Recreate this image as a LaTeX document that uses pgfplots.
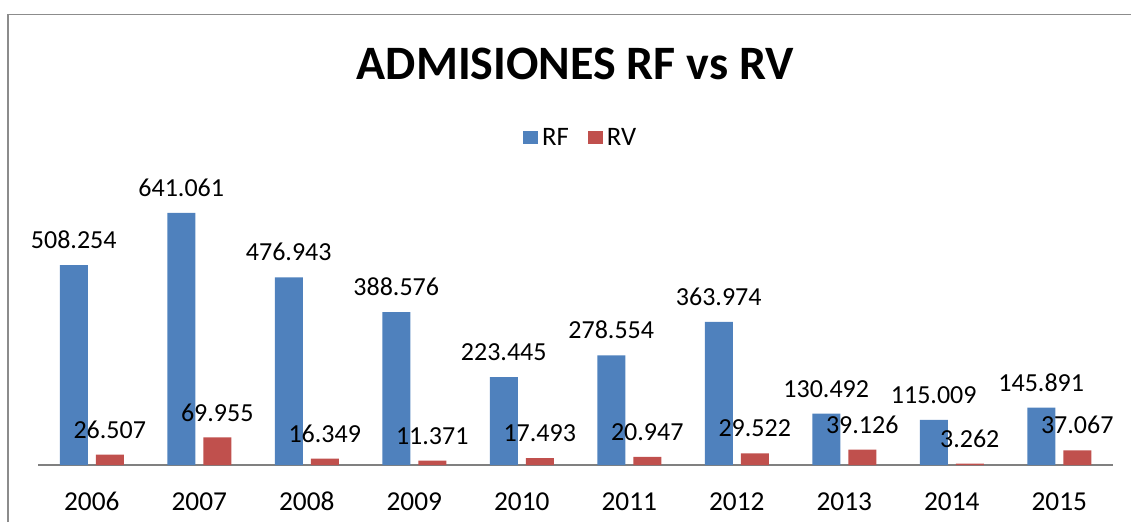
\documentclass[border=0pt]{standalone}
\usepackage{fontspec}
\setmainfont{Carlito}
\usepackage{pgfplots}
\pgfplotsset{compat=1.18}
\definecolor{rfblue}{HTML}{4F81BD}
\definecolor{rvred}{HTML}{C0504D}
\begin{document}
\begin{tikzpicture}
\path[use as bounding box] (0,0) rectangle (848.25pt,391.5pt);
\draw[line width=1.2pt, color=black!45] (6.2pt,0) -- (6.2pt,380.5pt) -- (848.25pt,380.5pt);
\node[anchor=base, font=\fontsize{36}{40}\selectfont\bfseries] at (431.6pt,331.5pt) {ADMISIONES RF vs RV};
\begin{axis}[
  at={(28.5pt,42.75pt)}, anchor=south west,
  scale only axis, width=806.25pt, height=225pt,
  ybar=6pt, bar width=21pt,
  xmin=-0.5, xmax=9.5, ymin=0, ymax=762800,
  enlargelimits=false, clip=false,
  axis x line=bottom, axis y line=none,
  x axis line style={-, draw=black!50, line width=1pt},
  xtick=data,
  xticklabels={2006,2007,2008,2009,2010,2011,2012,2013,2014,2015},
  xtick style={draw=none},
  xticklabel style={font=\fontsize{20.5}{24}\selectfont, inner sep=0pt, anchor=base, yshift=-32.25pt},
  /pgf/number format/.cd, fixed, precision=0, 1000 sep={.}, assume math mode=true,
  /pgfplots/.cd,
  nodes near coords,
  every node near coord/.append style={font=\fontsize{19.5}{22}\selectfont, color=black, anchor=south, inner sep=0pt, yshift=12pt},
  legend columns=2,
  legend style={draw=none, at={(0.505,1.09)}, anchor=center, font=\fontsize{20}{22}\selectfont,
    /tikz/every even column/.append style={column sep=12pt},
    /tikz/every odd column/.append style={column sep=1pt}},
  legend image code/.code={\fill[#1,draw=none] (0pt,-4.8pt) rectangle (11.5pt,5pt);},
]
\addplot[fill=rfblue, draw=none] coordinates {(0,508254) (1,641061) (2,476943) (3,388576) (4,223445) (5,278554) (6,363974) (7,130492) (8,115009) (9,145891)};
\addplot[fill=rvred, draw=none] coordinates {(0,26507) (1,69955) (2,16349) (3,11371) (4,17493) (5,20947) (6,29522) (7,39126) (8,3262) (9,37067)};
\legend{RF,RV}
\end{axis}
\end{tikzpicture}
\end{document}
